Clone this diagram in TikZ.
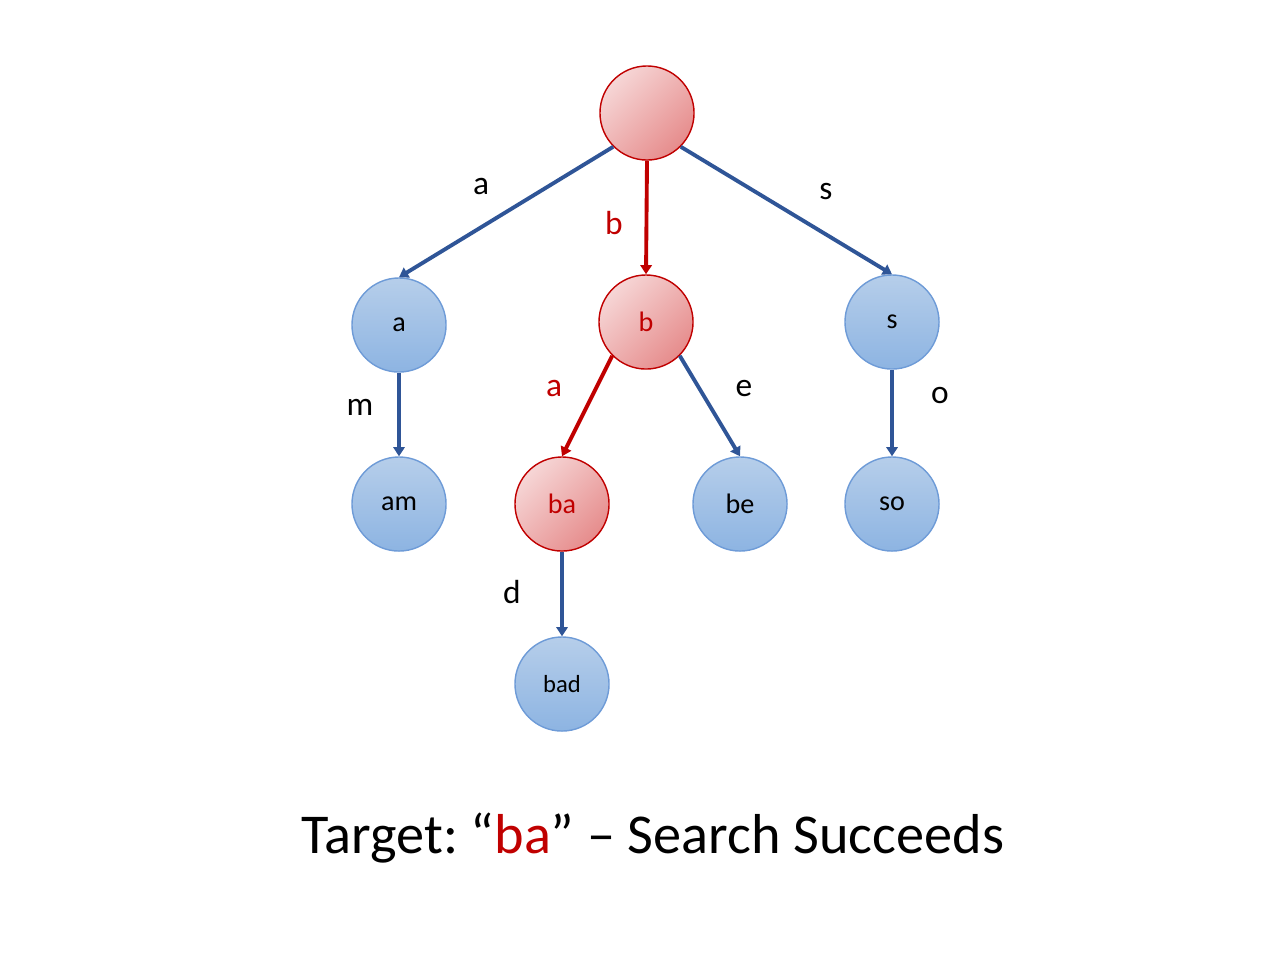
\documentclass[tikz,border=0pt]{standalone}
\usepackage{fontspec}
\setmainfont{Carlito}
\usetikzlibrary{positioning,arrows.meta}
\definecolor{trieblue}{RGB}{47,85,151}
\definecolor{triered}{RGB}{192,0,0}
\definecolor{bluetop}{RGB}{182,206,234}
\definecolor{bluebot}{RGB}{141,180,226}
\definecolor{blueline}{RGB}{110,155,215}
\definecolor{redlight}{RGB}{246,214,214}
\definecolor{reddark}{RGB}{230,140,140}
\tikzset{
  edgearrow/.style={-{Triangle[length=2.6pt,width=3.2pt]}, line width=1.1pt, draw=trieblue},
  hitarrow/.style={-{Triangle[length=2.6pt,width=3.2pt]}, line width=1.1pt, draw=triered},
  trienode/.style={circle, draw=blueline, line width=0.4pt, top color=bluetop, bottom color=bluebot, minimum size=0.94cm, inner sep=0pt, font=\fontsize{8}{10}\selectfont},
  hitnode/.style={circle, draw=triered, line width=0.4pt, shading=axis, top color=redlight, bottom color=reddark, shading angle=45, minimum size=0.94cm, inner sep=0pt, text=triered, font=\fontsize{8}{10}\selectfont},
  edgelabel/.style={font=\fontsize{9.5}{11}\selectfont},
  hitlabel/.style={font=\fontsize{9.5}{11}\selectfont, text=triered}
}
\begin{document}
\begin{tikzpicture}[x=0.01cm, y=-0.01cm]
  \useasboundingbox (0,0) rectangle (1280,960);
  \node[hitnode] (root) at (647,113) {};
  \node[trienode] (a) at (399,325) {a};
  \node[hitnode] (b) at (646,322) {b};
  \node[trienode] (s) at (892,322) {s};
  \node[trienode] (am) at (399,504) {am};
  \node[hitnode] (ba) at (562,504) {ba};
  \node[trienode] (be) at (740,504) {be};
  \node[trienode] (so) at (892,504) {so};
  \node[trienode, font=\fontsize{7}{9}\selectfont] (bad) at (562,684) {bad};
  \draw[edgearrow] (root.225) -- (a.north);
  \draw[hitarrow] (root.south) -- (b.north);
  \draw[edgearrow] (root.-45) -- (s.north);
  \draw[edgearrow] (a) -- (am);
  \draw[hitarrow] (b.225) -- (ba.north);
  \draw[edgearrow] (b.-45) -- (be.north);
  \draw[edgearrow] (s) -- (so);
  \draw[edgearrow] (ba) -- (bad);
  \node[edgelabel] (la) at (481,186) {a};
  \node[hitlabel] (lb) at (614,223) {b};
  \node[edgelabel] (ls) at (826,192) {s};
  \node[edgelabel] (lm) at (360,407) {m};
  \node[hitlabel] (lba) at (554,388) {a};
  \node[edgelabel] (le) at (744,388) {e};
  \node[edgelabel] (lo) at (940,395) {o};
  \node[edgelabel] (ld) at (512,592) {d};
  \node[font=\fontsize{16}{19}\selectfont] (title) at (653,838) {Target:~“\textcolor{triered}{ba}” – Search Succeeds};
\end{tikzpicture}
\end{document}
